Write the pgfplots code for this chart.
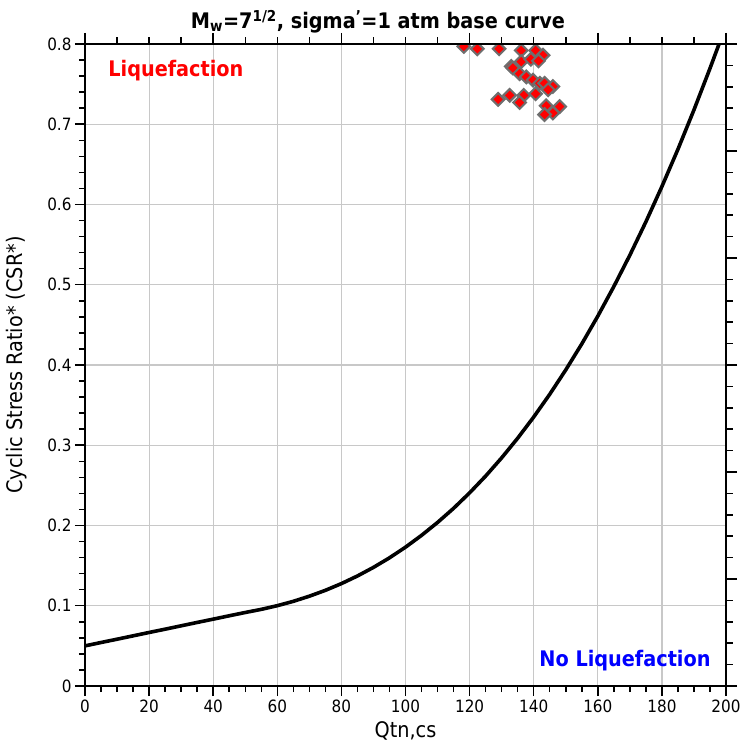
\documentclass[border=0pt]{standalone}
\usepackage{fontspec}
\setmainfont{DejaVu Sans Condensed}
\usepackage{pgfplots}
\pgfplotsset{compat=1.18}
\definecolor{gridgray}{RGB}{200,200,200}
\definecolor{markgray}{RGB}{110,110,110}
\begin{document}
\begin{tikzpicture}[x=1bp,y=1bp]
\begin{axis}[
  at={(0,0)}, anchor=south west,
  scale only axis, width=641bp, height=642bp,
  xmin=0, xmax=200, ymin=0, ymax=0.8,
  xtick={0,20,40,60,80,100,120,140,160,180,200},
  ytick={0,0.1,0.2,0.3,0.4,0.5,0.6,0.7,0.8},
  yticklabels={0,0.1,0.2,0.3,0.4,0.5,0.6,0.7,0.8},
  minor x tick num=3, minor y tick num=4,
  xtick pos=left, ytick pos=left, tick align=outside,
  major tick length=10bp, minor tick length=6bp,
  grid=major, major grid style={gridgray, line width=1.2bp},
  tick style={black, line width=1.5bp},
  axis line style={line width=2.2bp},
  /pgf/number format/assume math mode=true,
  tick label style={font=\fontsize{17}{20}\selectfont},
  label style={font=\fontsize{21.5}{24}\selectfont},
  xlabel={Qtn,cs},
  ylabel={Cyclic Stress Ratio* (CSR*)},
  xlabel style={at={(axis description cs:0.5,-0.081)}, anchor=base},
  ylabel style={at={(axis description cs:-0.106,0.5)}, anchor=center},
  clip marker paths=true,
]
\addplot[black, line width=3.6bp] coordinates {
(0,0.0500) (5,0.0542) (10,0.0583) (15,0.0625) (20,0.0667) (25,0.0708)
(30,0.0750) (35,0.0792) (40,0.0833) (45,0.0875) (50,0.0916) (55,0.0955)
(60,0.1001) (65,0.1055) (70,0.1119) (75,0.1192) (80,0.1276) (85,0.1371)
(90,0.1478) (95,0.1597) (100,0.1730) (105,0.1877) (110,0.2038) (115,0.2214)
(120,0.2407) (125,0.2616) (130,0.2843) (135,0.3088) (140,0.3352) (145,0.3635)
(150,0.3939) (155,0.4263) (160,0.4609) (165,0.4978) (170,0.5369) (175,0.5784)
(180,0.6224) (185,0.6688) (190,0.7179) (195,0.7696) (197.5,0.7964) (198,0.8019)
};
\addplot[only marks, mark=square*, mark size=4.5bp,
  mark options={rotate=45, fill=red, draw=markgray, line width=2bp}] coordinates {
(114.8,0.803) (118.2,0.797) (122.4,0.794) (129.2,0.794)
(136.1,0.792) (140.6,0.792) (142.9,0.786)
(136.1,0.778) (139.1,0.781) (141.5,0.779)
(133.0,0.772) (133.5,0.770) (135.6,0.763) (137.7,0.759) (139.8,0.755)
(141.9,0.751) (143.4,0.751) (146.0,0.747) (144.5,0.743)
(128.9,0.731) (132.5,0.736) (136.9,0.736) (140.6,0.738) (135.6,0.727)
(143.9,0.723) (148.1,0.722) (146.0,0.714) (143.4,0.712)
};
\node[anchor=base west, text=red, font=\bfseries\fontsize{21.5}{24}\selectfont] at (axis cs:6.2,0.759) {Liquefaction};
\node[anchor=base west, text=blue, font=\bfseries\fontsize{21.5}{24}\selectfont] at (axis cs:140.7,0.024) {No Liquefaction};
\end{axis}
\begin{axis}[
  at={(0,0)}, anchor=south west,
  scale only axis, width=641bp, height=642bp,
  xmin=0, xmax=200, ymin=0, ymax=6,
  xtick={0,40,80,120,160,200}, ytick={0,1,2,3,4,5,6},
  minor x tick num=3, minor y tick num=4,
  xtick pos=right, ytick pos=right, tick align=outside,
  xticklabels={}, yticklabels={},
  major tick length=11bp, minor tick length=6.5bp,
  tick style={black, line width=1.5bp},
  axis line style={line width=2.2bp},
]
\end{axis}
\node[anchor=base, font=\bfseries\fontsize{21.5}{24}\selectfont] at (293,657.4) {M\textsubscript{w}=7\textsuperscript{1/2}, sigma\textsuperscript{'}=1 atm base curve};
\pgfresetboundingbox
\path[use as bounding box] (-85,-59) rectangle (656,686);
\end{tikzpicture}
\end{document}
